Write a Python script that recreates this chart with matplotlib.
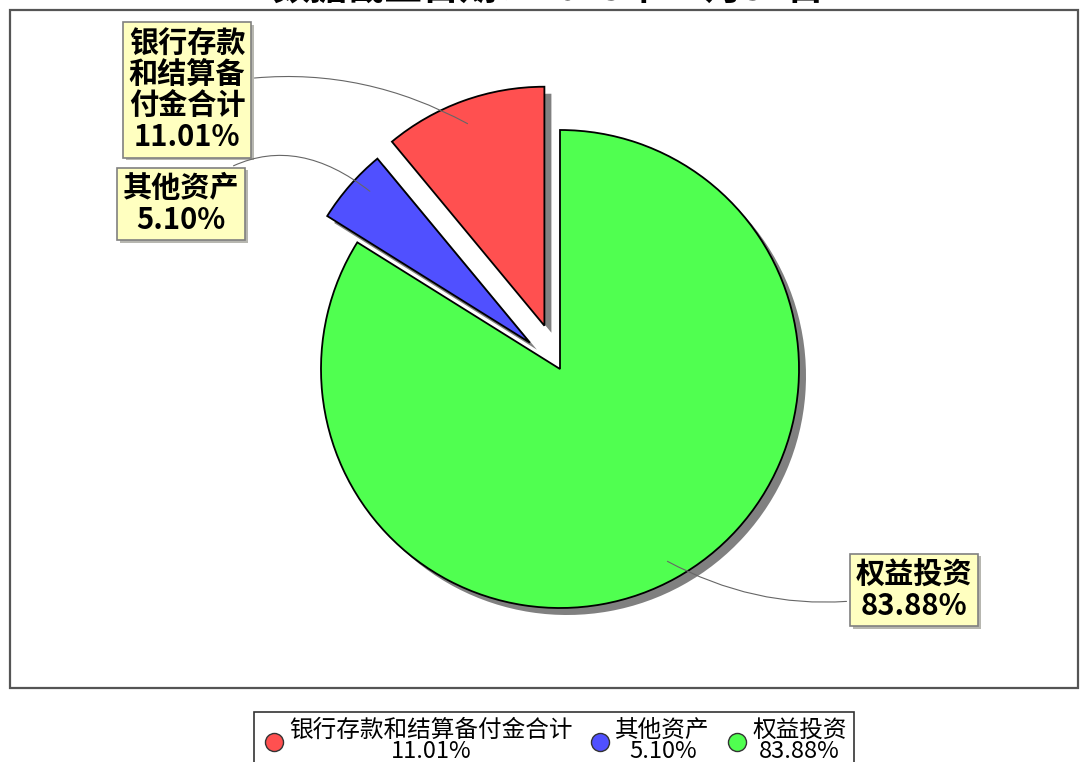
import matplotlib
matplotlib.use("Agg")
import matplotlib.pyplot as plt
from matplotlib.lines import Line2D
from matplotlib.patches import Rectangle
import matplotlib.patheffects as pe

plt.rcParams['font.family'] = ['Noto Sans CJK SC', 'DejaVu Sans']

# data
nombres = ["银行存款和结算备付金合计", "其他资产", "权益投资"]
etiquetas_caja = ["银行存款\n和结算备\n付金合计", "其他资产", "权益投资"]
porcentajes = [11.01, 5.10, 83.88]
colores = ["#FF5050", "#5050FF", "#50FF50"]
titulo = "数据截止日期：2023年12月31日"

W, H = 1080, 762
fig = plt.figure(figsize=(W / 100, H / 100), dpi=100)
ax = fig.add_axes([0, 0, 1, 1])

def Y(y):
    return H - y

# marco del grafico
ax.add_patch(Rectangle((10, Y(688)), 1068, 678, fill=False,
                       edgecolor="#555555", lw=1.6, zorder=0))

# titulo (cortado arriba como en la imagen)
fig.text(548 / W, 1 + 12 / H, titulo, ha="center", va="center",
         fontsize=27, fontweight="bold")

# explode en unidades de datos (pixeles)
explode = [46, 40, 0]
centro = (560, Y(369))
radio = 239

# sombra
ax.pie(porcentajes, explode=explode, startangle=90, radius=radio,
       center=(centro[0] + 7, centro[1] - 7), colors=["#808080"] * 3,
       wedgeprops=dict(linewidth=0), frame=True)
# tarta
ax.pie(porcentajes, explode=explode, startangle=90, radius=radio,
       center=centro, colors=colores,
       wedgeprops=dict(edgecolor="black", linewidth=1.3), frame=True)
ax.set_xlim(0, W)
ax.set_ylim(0, H)
ax.set_aspect("auto")
ax.axis("off")

# etiquetas con cajas
cajas = [(187, 90), (181, 204), (914, 590)]
puntos = [(470, 125), (372, 193), (665, 560)]
curvas = [-0.2, -0.45, -0.2]
for i in range(3):
    txt = etiquetas_caja[i] + "\n" + f"{porcentajes[i]:.2f}%"
    ann = ax.annotate(txt, xy=(puntos[i][0], Y(puntos[i][1])),
                      xytext=(cajas[i][0], Y(cajas[i][1])),
                      ha="center", va="center", multialignment="center",
                      fontsize=21, fontweight="bold", linespacing=1.05,
                      bbox=dict(boxstyle="square,pad=0.2", fc="#FFFFC0",
                                ec="#808080", lw=1.2),
                      arrowprops=dict(arrowstyle="-", color="#666666", lw=0.8,
                                      connectionstyle=f"arc3,rad={curvas[i]}"),
                      zorder=5)
    ann.get_bbox_patch().set_path_effects(
        [pe.SimplePatchShadow(offset=(2, -2), alpha=0.4), pe.Normal()])

# leyenda
handles = [Line2D([], [], marker="o", ls="", markersize=13, markerfacecolor=c,
                  markeredgecolor="#333333") for c in colores]
labels = [f"{n}\n{p:.2f}%" for n, p in zip(nombres, porcentajes)]
leg = fig.legend(handles, labels, loc="upper center", ncol=3,
                 bbox_to_anchor=(554 / W, 1 - 700 / H), fontsize=17,
                 frameon=True, fancybox=False, edgecolor="black",
                 handletextpad=0.1, columnspacing=0.6, handlelength=1.1,
                 borderpad=0.3, labelspacing=0.2)
leg.get_frame().set_linewidth(1.2)
for t in leg.get_texts():
    t.set_multialignment("center")
    t.set_linespacing(0.9)

fig.savefig("out.png", dpi=100)
